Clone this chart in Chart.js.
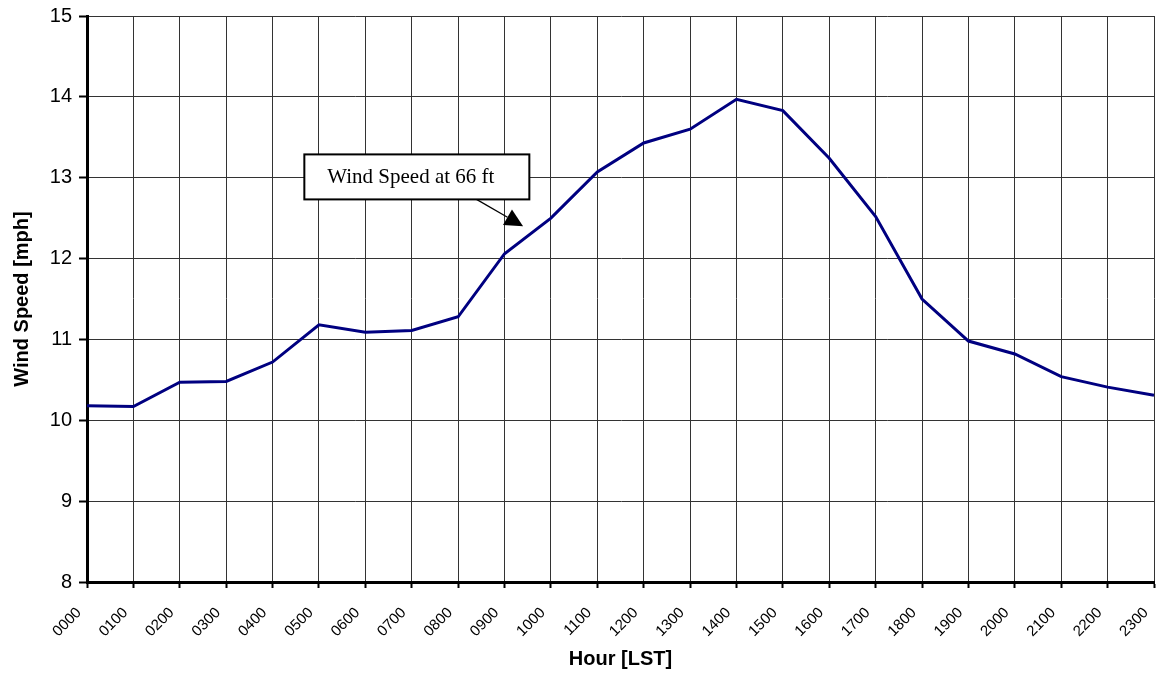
<!DOCTYPE html>
<html>
<head>
<meta charset="utf-8">
<script src="https://cdn.jsdelivr.net/npm/chart.js@4"></script>
<style>
  body { margin: 0; background: #fff; }
  #caja { width: 1156px; height: 673px; }
</style>
</head>
<body>
<div id="caja"><canvas id="graficoViento"></canvas></div>
<script>
// datos
const horas = ["0000", "0100", "0200", "0300", "0400", "0500", "0600", "0700", "0800", "0900", "1000", "1100",
  "1200", "1300", "1400", "1500", "1600", "1700", "1800", "1900", "2000", "2100", "2200", "2300"];
const velocidad = [10.18, 10.17, 10.47, 10.48, 10.72, 11.18, 11.09, 11.11, 11.28, 12.06, 12.50, 13.07,
  13.43, 13.60, 13.97, 13.83, 13.24, 12.52, 11.50, 10.98, 10.82, 10.54, 10.41, 10.31];
const yMin = 8;
const yMax = 15;

// nota con flecha (en unidades de los ejes)
const notaTexto = "Wind Speed at 66 ft";
const notaCentro = [7.11, 13.01];
const flechaInicio = [8.34, 12.75];
const flechaFin = [9.4, 12.40];

const pluginNota = {
  id: "nota",
  afterDatasetsDraw(chart) {
    const ctx = chart.ctx;
    const x = chart.scales.x, y = chart.scales.y;
    const cx = x.getPixelForValue(notaCentro[0]);
    const cy = y.getPixelForValue(notaCentro[1]);
    const w = 225, h = 45;
    ctx.save();
    // flecha
    const x1 = x.getPixelForValue(flechaInicio[0]), y1 = y.getPixelForValue(flechaInicio[1]);
    const x2 = x.getPixelForValue(flechaFin[0]), y2 = y.getPixelForValue(flechaFin[1]);
    const ang = Math.atan2(y2 - y1, x2 - x1);
    const largo = 18, ancho = 9;
    const bx = x2 - largo * Math.cos(ang), by = y2 - largo * Math.sin(ang);
    ctx.strokeStyle = "#000";
    ctx.lineWidth = 1.3;
    ctx.beginPath();
    ctx.moveTo(x1, y1);
    ctx.lineTo(bx, by);
    ctx.stroke();
    ctx.fillStyle = "#000";
    ctx.beginPath();
    ctx.moveTo(x2, y2);
    ctx.lineTo(bx + ancho * Math.sin(ang), by - ancho * Math.cos(ang));
    ctx.lineTo(bx - ancho * Math.sin(ang), by + ancho * Math.cos(ang));
    ctx.closePath();
    ctx.fill();
    // caja
    ctx.fillStyle = "#fff";
    ctx.fillRect(cx - w / 2, cy - h / 2, w, h);
    ctx.lineWidth = 2;
    ctx.strokeRect(cx - w / 2, cy - h / 2, w, h);
    ctx.fillStyle = "#000";
    ctx.font = "21px 'Liberation Serif', 'Times New Roman', serif";
    ctx.textAlign = "center";
    ctx.textBaseline = "middle";
    ctx.fillText(notaTexto, cx - 6, cy + 1);
    ctx.restore();
  }
};

new Chart(document.getElementById("graficoViento"), {
  type: "line",
  data: {
    labels: horas,
    datasets: [{
      label: "Wind Speed",
      data: velocidad,
      borderColor: "#000080",
      borderWidth: 3,
      pointRadius: 0,
      tension: 0,
      fill: false
    }]
  },
  options: {
    responsive: true,
    maintainAspectRatio: false,
    animation: false,
    layout: { padding: { top: 16, right: 2, left: 0, bottom: 0 } },
    plugins: {
      legend: { display: false },
      tooltip: { enabled: false }
    },
    scales: {
      x: {
        offset: false,
        grid: { color: "#333", lineWidth: 1, tickColor: "#000", tickWidth: 2, tickLength: 6 },
        border: { color: "#000", width: 3 },
        ticks: {
          color: "#000",
          font: { family: "'Liberation Sans', Arial", size: 15 },
          minRotation: 45,
          maxRotation: 45,
          autoSkip: false,
          padding: 16,
          labelOffset: -8
        },
        title: {
          display: true,
          text: "Hour [LST]",
          color: "#000",
          font: { family: "'Liberation Sans', Arial", size: 20, weight: "bold" },
          padding: { top: 0, bottom: 2 }
        },
        afterFit(scale) {
          scale.height = 91;
          scale.paddingLeft = 0;
          scale.paddingRight = 0;
        }
      },
      y: {
        min: yMin,
        max: yMax,
        grid: { color: "#333", lineWidth: 1, tickColor: "#000", tickWidth: 2, tickLength: 8 },
        border: { color: "#000", width: 3 },
        ticks: {
          stepSize: 1,
          color: "#000",
          font: { family: "'Liberation Sans', Arial", size: 20 },
          padding: 7
        },
        title: {
          display: true,
          text: "Wind Speed [mph]",
          color: "#000",
          font: { family: "'Liberation Sans', Arial", size: 20, weight: "bold" },
          padding: { top: 10, bottom: 0 }
        },
        afterFit(scale) {
          scale.width = 87;
          scale.paddingTop = 0;
          scale.paddingBottom = 0;
        }
      }
    }
  },
  plugins: [pluginNota]
});
</script>
</body>
</html>
